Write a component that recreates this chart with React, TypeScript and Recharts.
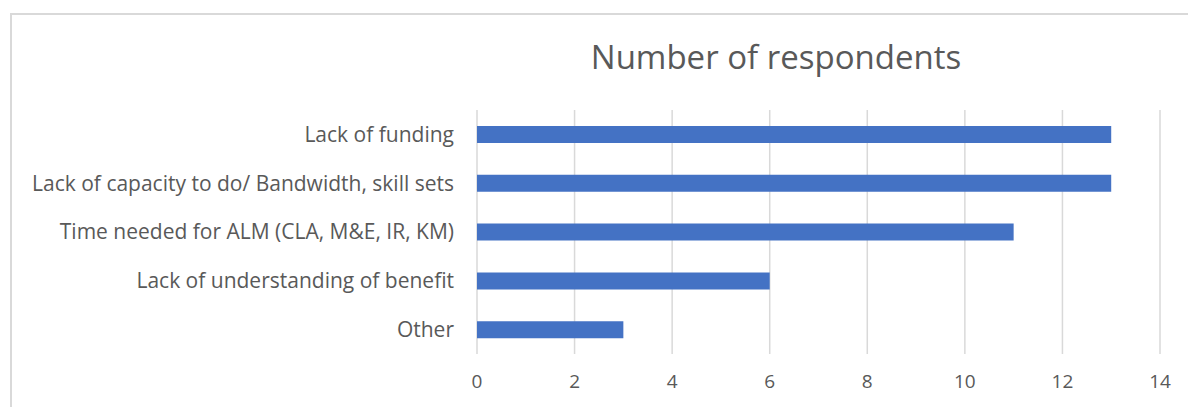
import { BarChart, Bar, XAxis, YAxis, CartesianGrid } from 'recharts';

const categories = [
  'Lack of funding',
  'Lack of capacity to do/ Bandwidth, skill sets',
  'Time needed for ALM (CLA, M&E, IR, KM)',
  'Lack of understanding of benefit',
  'Other',
];
const respondents = [13, 13, 11, 6, 3];
const xTicks = [0, 2, 4, 6, 8, 10, 12, 14];

const chartData = categories.map((name, i) => ({ name, value: respondents[i] }));

const FONT = '"Open Sans", Lato, sans-serif';
const TEXT = '#595959';

export default function App() {
  return (
    <div style={{ position: 'absolute', left: 0, top: 0, width: 1188, height: 407, overflow: 'hidden', background: '#fff' }}>
      <div
        style={{
          position: 'absolute',
          left: 10,
          top: 13,
          width: 1300,
          height: 500,
          borderLeft: '2px solid #d9d9d9',
          borderTop: '2px solid #d9d9d9',
        }}
      />
      <div
        style={{
          position: 'absolute',
          left: 0,
          top: 34,
          width: 1552,
          textAlign: 'center',
          fontFamily: FONT,
          fontSize: 33,
          color: TEXT,
          lineHeight: '46px',
        }}
      >
        Number of respondents
      </div>
      <div style={{ position: 'absolute', left: 0, top: 0 }}>
        <BarChart
          width={1188}
          height={407}
          data={chartData}
          layout="vertical"
          margin={{ top: 110, right: 28, left: 0, bottom: 0 }}
        >
          <CartesianGrid horizontal={false} stroke="#d9d9d9" strokeWidth={1.5} />
          <XAxis
            type="number"
            domain={[0, 14]}
            ticks={xTicks}
            axisLine={false}
            tickLine={false}
            tickSize={0}
            tickMargin={21}
            height={53}
            tick={{ fontSize: 19, fill: TEXT, fontFamily: FONT }}
          />
          <YAxis
            type="category"
            dataKey="name"
            width={477}
            axisLine={false}
            tickLine={false}
            tickSize={0}
            tickMargin={23}
            interval={0}
            tick={{ fontSize: 21, fill: TEXT, fontFamily: FONT }}
          />
          <Bar dataKey="value" fill="#4472C4" barSize={17} isAnimationActive={false} />
        </BarChart>
      </div>
    </div>
  );
}
